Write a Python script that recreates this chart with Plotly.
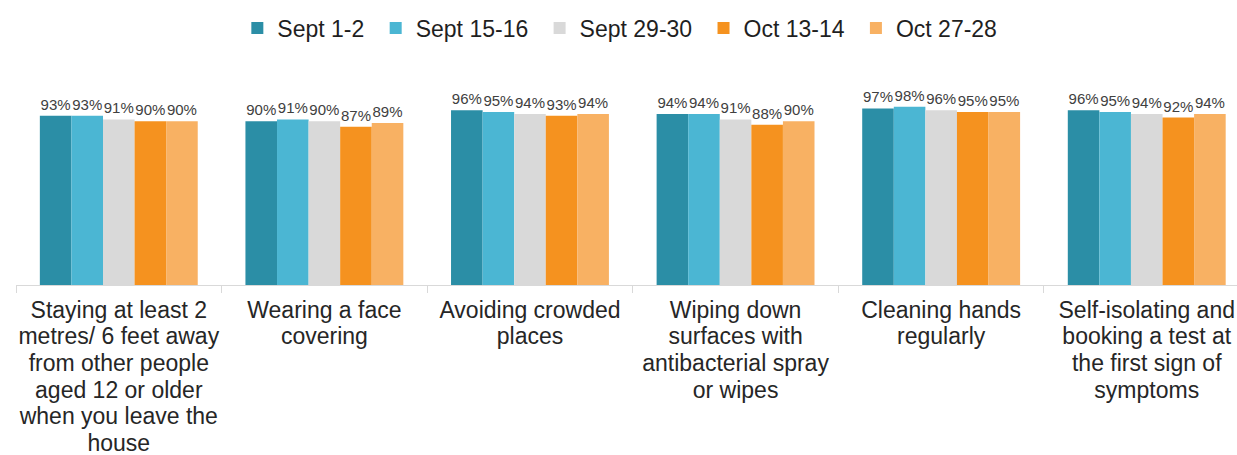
import plotly.graph_objects as go

# Survey waves and the share of respondents reporting each behaviour (%)
categories = [
    "Staying at least 2<br>metres/ 6 feet away<br>from other people<br>aged 12 or older<br>when you leave the<br>house",
    "Wearing a face<br>covering",
    "Avoiding crowded<br>places",
    "Wiping down<br>surfaces with<br>antibacterial spray<br>or wipes",
    "Cleaning hands<br>regularly",
    "Self-isolating and<br>booking a test at<br>the first sign of<br>symptoms",
]
waves = ["Sept 1-2", "Sept 15-16", "Sept 29-30", "Oct 13-14", "Oct 27-28"]

sept_1_2 = [93, 90, 96, 94, 97, 96]
sept_15_16 = [93, 91, 95, 94, 98, 95]
sept_29_30 = [91, 90, 94, 91, 96, 94]
oct_13_14 = [90, 87, 93, 88, 95, 92]
oct_27_28 = [90, 89, 94, 90, 95, 94]

series = [sept_1_2, sept_15_16, sept_29_30, oct_13_14, oct_27_28]
colors = ["#2B8EA6", "#4BB6D3", "#D9D9D9", "#F5921F", "#F8B163"]

FONT = "Liberation Sans, Arial, sans-serif"


def styled(label, size=23):
    # larger glyphs inside a tighter line pitch
    return "<br>".join(
        f"<span style='font-size:{size}px'>{part}</span>" for part in label.split("<br>")
    )


x_labels = [styled(c) for c in categories]

fig = go.Figure()
for name, vals, col in zip(waves, series, colors):
    fig.add_trace(
        go.Bar(
            name=name + "\u00a0",  # a little extra room between legend entries
            x=x_labels,
            y=vals,
            marker=dict(color=col, line=dict(width=0)),
            texttemplate="%{y}%",
            textposition="outside",
            textfont=dict(family=FONT, size=15, color="#404040"),
            constraintext="none",
            cliponaxis=False,
        )
    )

fig.update_layout(
    width=1237,
    height=455,
    margin=dict(l=16, r=0, t=103, b=170, autoexpand=False),
    paper_bgcolor="white",
    plot_bgcolor="white",
    barmode="group",
    bargap=0.232,
    bargroupgap=0,
    font=dict(family=FONT, color="#262626"),
    legend=dict(
        orientation="h",
        x=0.497,
        xanchor="center",
        y=1.412,
        yanchor="middle",
        font=dict(family=FONT, size=23, color="#1F1F1F"),
        bgcolor="rgba(0,0,0,0)",
    ),
    showlegend=True,
)

fig.update_xaxes(
    type="category",
    range=[-0.5, 5.439],
    automargin=False,
    tickangle=0,
    showline=True,
    linecolor="#D9D9D9",
    linewidth=1,
    ticks="outside",
    tickson="boundaries",
    ticklen=7,
    tickcolor="#D9D9D9",
    tickwidth=1,
    tickfont=dict(family=FONT, size=20.5, color="#262626"),
    ticklabelstandoff=7,
    showgrid=False,
    zeroline=False,
    fixedrange=True,
)
fig.update_yaxes(visible=False, range=[0, 100], showgrid=False, zeroline=False, fixedrange=True)

fig.write_html("out.html")
